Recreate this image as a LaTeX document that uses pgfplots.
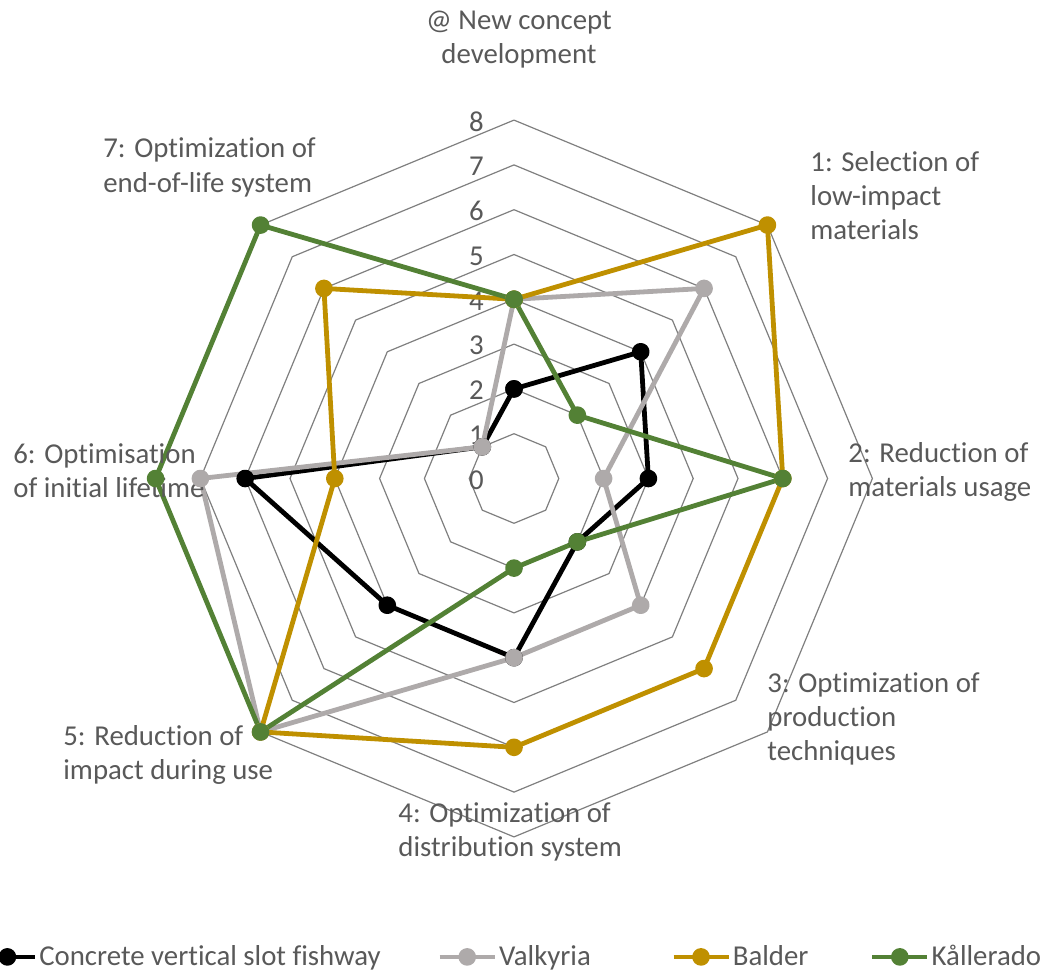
\documentclass[border=0pt]{standalone}
\usepackage{fontspec}
\setmainfont{Carlito}[Ligatures=CommonOff]
\usepackage{pgfplots}
\pgfplotsset{compat=1.18}

\definecolor{txt}{HTML}{595959}
\definecolor{gridc}{HTML}{7F7F7F}
\definecolor{cblack}{HTML}{000000}
\definecolor{cgray}{HTML}{AEAAAA}
\definecolor{cgold}{HTML}{BF9000}
\definecolor{cgreen}{HTML}{538135}

% label line placed from pixel position of the reference (centre at 514,478.5; 0.5pt per px)
\newcommand{\lbl}[4]{\node[font=\fontsize{14.4}{17}\selectfont, text=txt, inner sep=0pt,
  anchor=#3, xshift={(#1-514)*0.5pt}, yshift={(478.5-#2)*0.5pt}] at (axis cs:0,0) {#4};}

\begin{document}
\begin{tikzpicture}
\begin{axis}[
  hide axis, clip=false,
  x=22.4pt, y=22.4pt,
  xmin=-8, xmax=8, ymin=-8, ymax=8,
  legend columns=4,
  legend cell align=left,
  legend style={at={(-0.2490,-0.1674)}, anchor=west, draw=none, fill=none,
    inner sep=0pt, font=\fontsize{14.4}{17}\selectfont, text=txt,
    nodes={inner xsep=1pt, inner ysep=0pt}},
  legend image code/.code={\draw[mark repeat=2,mark phase=2]
    plot coordinates {(0pt,0pt) (13.75pt,0pt) (27.5pt,0pt)};},
  series/.style={line width=2.4pt, line join=round, mark=*, mark size=3.2pt,
    mark options={solid}, data cs=polar},
]

% octagonal grid, levels 1..8
\pgfplotsinvokeforeach{1,...,8}{
  \addplot[gridc, line width=0.6pt, data cs=polar, forget plot]
    coordinates {(90,#1) (45,#1) (0,#1) (-45,#1) (-90,#1) (-135,#1) (180,#1) (135,#1) (90,#1)};
}

% radial scale
\pgfplotsinvokeforeach{0,...,8}{
  \node[font=\fontsize{14.4}{17}\selectfont, text=txt, inner sep=0pt, anchor=east,
    xshift=-15pt, yshift=-0.75pt] at (axis cs:0,#1) {#1};
}

\coordinate (O) at (axis cs:0,0);

% angle = 90 - 45*k for axis k (0 = @ New concept ... 7)
\addplot[series, cblack] coordinates {(90,2) (45,4) (0,3) (-45,2) (-90,4) (-135,4) (180,6) (135,1) (90,2)};
\addlegendentry{\makebox[198pt][l]{Concrete vertical slot fishway}}
\addplot[series, cgray] coordinates {(90,4) (45,6) (0,2) (-45,4) (-90,4) (-135,8) (180,7) (135,1) (90,4)};
\addlegendentry{\makebox[85pt][l]{Valkyria}}
\addplot[series, cgold] coordinates {(90,4) (45,8) (0,6) (-45,6) (-90,6) (-135,8) (180,4) (135,6) (90,4)};
\addlegendentry{\makebox[67.5pt][l]{Balder}}
\addplot[series, cgreen] coordinates {(90,4) (45,2) (0,6) (-45,2) (-90,2) (-135,8) (180,8) (135,8) (90,4)};
\addlegendentry{Kållerado}

% category labels
\lbl{519}{30}{base}{@ New concept}
\lbl{519}{64}{base}{development}
\lbl{810}{172}{base west}{1: Selection of}
\lbl{810}{206}{base west}{low-impact}
\lbl{810}{240}{base west}{materials}
\lbl{848}{462}{base west}{2: Reduction of}
\lbl{848}{496}{base west}{materials usage}
\lbl{767}{692}{base west}{3: Optimization of}
\lbl{767}{726}{base west}{production}
\lbl{767}{760}{base west}{techniques}
\lbl{398}{822}{base west}{4: Optimization of}
\lbl{398}{856}{base west}{distribution system}
\lbl{63}{745}{base west}{5: Reduction of}
\lbl{63}{779}{base west}{impact during use}
\lbl{13}{463}{base west}{6: Optimisation}
\lbl{13}{497}{base west}{of initial lifetime}
\lbl{103}{158}{base west}{7: Optimization of}
\lbl{103}{193}{base west}{end-of-life system}
\end{axis}
\pgfresetboundingbox
\path[use as bounding box] (O) ++(-257pt,-248.75pt) rectangle ++(527pt,488pt);
\end{tikzpicture}
\end{document}
